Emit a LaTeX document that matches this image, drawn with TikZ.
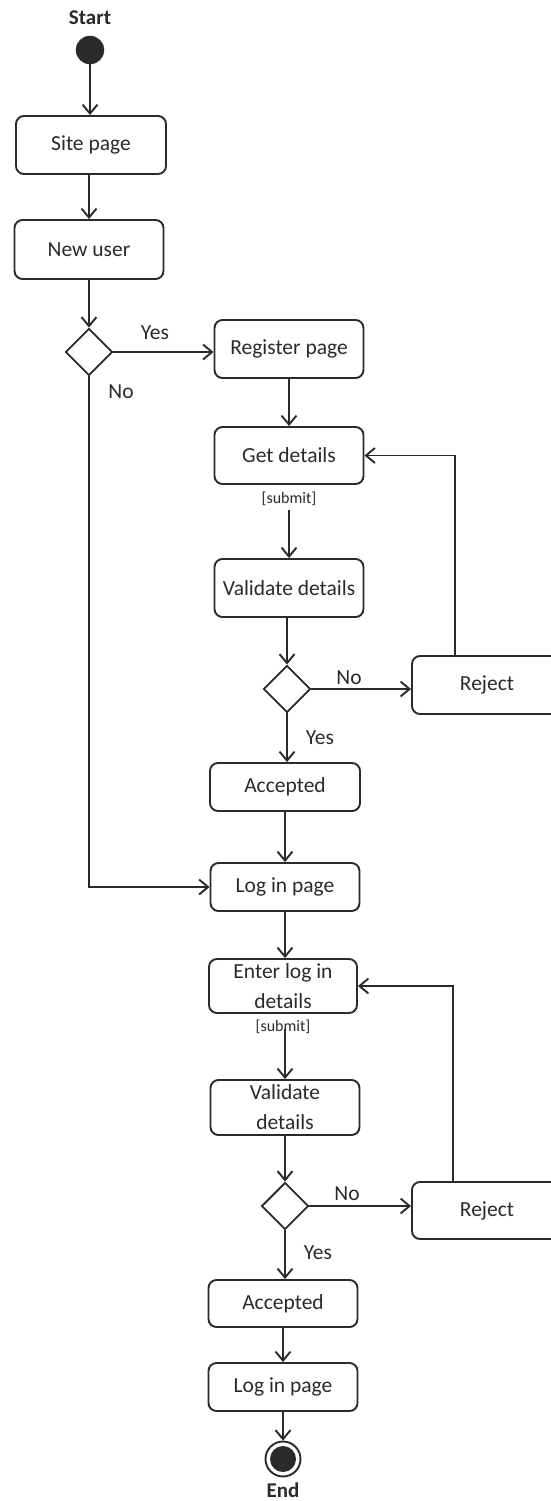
\documentclass[tikz,border=0pt]{standalone}
\usepackage{fontspec}
\setmainfont{Carlito}
\usetikzlibrary{arrows.meta,shapes.geometric}

\definecolor{ink}{HTML}{2A2A2A}

\begin{document}
\begin{tikzpicture}[x=1pt,y=-1pt,
  every node/.style={text=ink},
  act/.style={draw=ink, line width=1.9pt, rounded corners=8pt,
    minimum width=149pt, inner sep=0pt, align=center,
    font=\fontsize{21.5}{30}\selectfont},
  choice/.style={draw=ink, line width=1.9pt, diamond, inner sep=0pt,
    minimum width=47pt, minimum height=47pt},
  lbl/.style={font=\fontsize{21.5}{24}\selectfont, inner sep=0pt},
  guard/.style={font=\fontsize{16}{18}\selectfont, inner sep=0pt},
  title/.style={font=\bfseries\fontsize{21}{24}\selectfont, inner sep=0pt},
  flow/.style={draw=ink, line width=1.9pt,
    -{Straight Barb[length=9pt,width=15pt,line width=1.9pt]}}]

\useasboundingbox (0,0) rectangle (551,1501);

% start
\node[title] (startlbl) at (90,18) {Start};
\node[circle, fill=ink, draw=ink, minimum size=28pt, inner sep=0pt] (start) at (90,50) {};

% registration branch
\node[act, minimum width=150pt, minimum height=58pt] (site) at (91,145) {Site page};
\node[act, minimum height=59pt] (newuser) at (89,249.5) {New user};
\node[choice] (d1) at (89,352) {};
\node[act, minimum height=58pt] (reg) at (289,349) {Register page};
\node[act, minimum height=57pt] (get) at (289,455.5) {Get details};
\node[guard] (sub1) at (289,499) {[submit]};
\node[act, minimum height=58pt] (val1) at (289,588) {Validate details};
\node[choice] (d2) at (287,689) {};
\node[act, minimum width=150pt, minimum height=58pt] (rej1) at (487,685) {Reject};
\node[act, minimum width=150pt, minimum height=48pt] (acc1) at (285,787) {Accepted};

% log in branch
\node[act, minimum height=48pt] (log1) at (285,887) {Log in page};
\node[act, minimum width=148pt, minimum height=54pt] (ent) at (283,986) {Enter log in\\details};
\node[guard] (sub2) at (283,1027) {[submit]};
\node[act, minimum height=55pt] (val2) at (285,1107.5) {Validate\\details};
\node[choice] (d3) at (285,1206) {};
\node[act, minimum width=150pt, minimum height=57pt] (rej2) at (487,1210.5) {Reject};
\node[act, minimum height=47pt] (acc2) at (283,1303.5) {Accepted};
\node[act, minimum height=48pt] (log2) at (283,1387) {Log in page};

% end
\node[circle, draw=ink, line width=1.9pt, minimum size=35pt, inner sep=0pt] (endc) at (283,1459) {};
\node[circle, fill=ink, minimum size=26pt, inner sep=0pt] (endi) at (endc) {};
\node[title] (endlbl) at (283,1490) {End};

% guard labels
\node[lbl] (yes1) at (155,333) {Yes};
\node[lbl] (no1) at (121,392) {No};
\node[lbl] (no2) at (349,678) {No};
\node[lbl] (yes2) at (320,738) {Yes};
\node[lbl] (no3) at (347,1194) {No};
\node[lbl] (yes3) at (318,1253) {Yes};

% connectors
\draw[flow] (start) -- (start |- site.north);
\draw[flow] (site.south -| newuser) -- (newuser.north);
\draw[flow] (newuser.south -| d1) -- (d1.north);
\draw[flow] (d1.east) -- (d1.east -| reg.west);
\draw[flow] (reg.south) -- (get.north);
\draw[flow] ([yshift=-4pt]sub1.south) -- (val1.north);
\draw[flow] (val1.south -| d2) -- (d2.north);
\draw[flow] (d2.east) -- (d2.east -| rej1.west);
\draw[flow] ([xshift=-32pt]rej1.north) |- (get.east);
\draw[flow] (d2.south) -- (d2.south |- acc1.north);
\draw[flow] (acc1.south -| log1) -- (log1.north);
\draw[flow] (d1.south) |- (log1.west);
\draw[flow] (log1.south) -- (log1.south |- ent.north);
\draw[flow] ([yshift=5pt]sub2.south -| val2) -- (val2.north);
\draw[flow] (val2.south -| d3) -- (d3.north);
\draw[flow] (d3.east) -- (d3.east -| rej2.west);
\draw[flow] ([xshift=-34pt]rej2.north) |- (ent.east);
\draw[flow] (d3.south) -- (d3.south |- acc2.north);
\draw[flow] (acc2.south) -- (log2.north);
\draw[flow] (log2.south) -- (endc.north);

\end{tikzpicture}
\end{document}
